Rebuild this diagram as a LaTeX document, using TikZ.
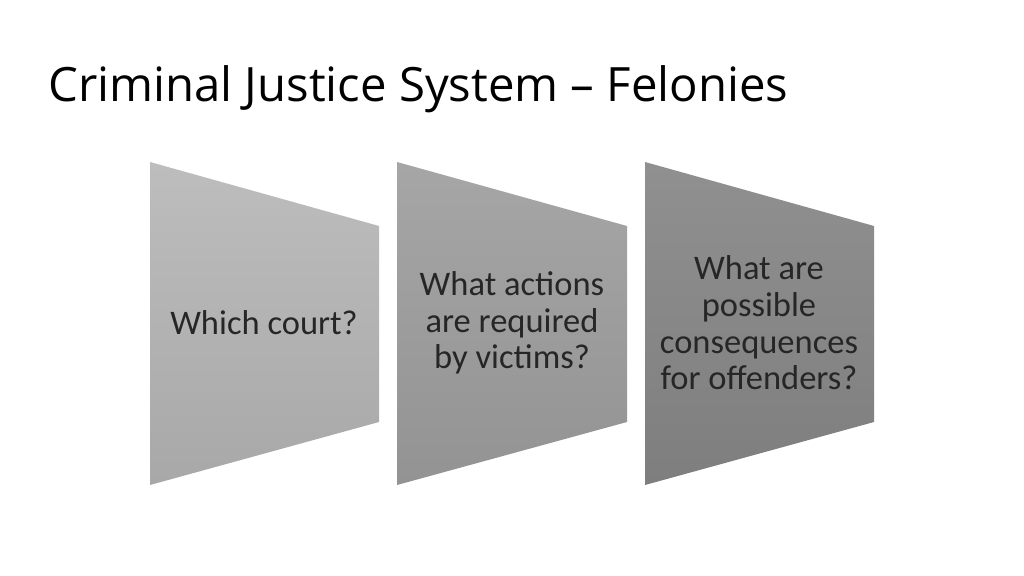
\documentclass[tikz,border=0pt]{standalone}
\usepackage{fontspec}
\setmainfont{Carlito}
\newfontfamily\titlefont{Open Sans}
\definecolor{txt}{HTML}{262626}
\begin{document}
\begin{tikzpicture}[x=1pt,y=-1pt,
  lbl/.style={align=center,text=txt,font=\fontsize{34.5}{36.6}\selectfont,inner sep=0pt}]
\useasboundingbox (0,0) rectangle (1024,575);
\fill[white] (0,0) rectangle (1024,575);
\node[anchor=base west,inner sep=0pt,font=\titlefont\fontsize{47.3}{56}\selectfont] (title) at (48,102) {Criminal Justice System – Felonies};
\shade[top color={rgb,255:red,189;green,189;blue,189},bottom color={rgb,255:red,168;green,168;blue,168}]
  (150,162) -- (379,226) -- (379,422) -- (150,485) -- cycle;
\shade[top color={rgb,255:red,166;green,166;blue,166},bottom color={rgb,255:red,147;green,147;blue,147}]
  (397,162) -- (627,226) -- (627,422) -- (397,485) -- cycle;
\shade[top color={rgb,255:red,144;green,144;blue,144},bottom color={rgb,255:red,126;green,126;blue,126}]
  (645,162) -- (874,226) -- (874,422) -- (645,485) -- cycle;
\node[lbl] (q1) at (264,323) {Which court?};
\node[lbl] (q2) at (512,323) {What actions\\are required\\by victims?};
\node[lbl] (q3) at (759,323) {What are\\possible\\consequences\\for offenders?};
\end{tikzpicture}
\end{document}
